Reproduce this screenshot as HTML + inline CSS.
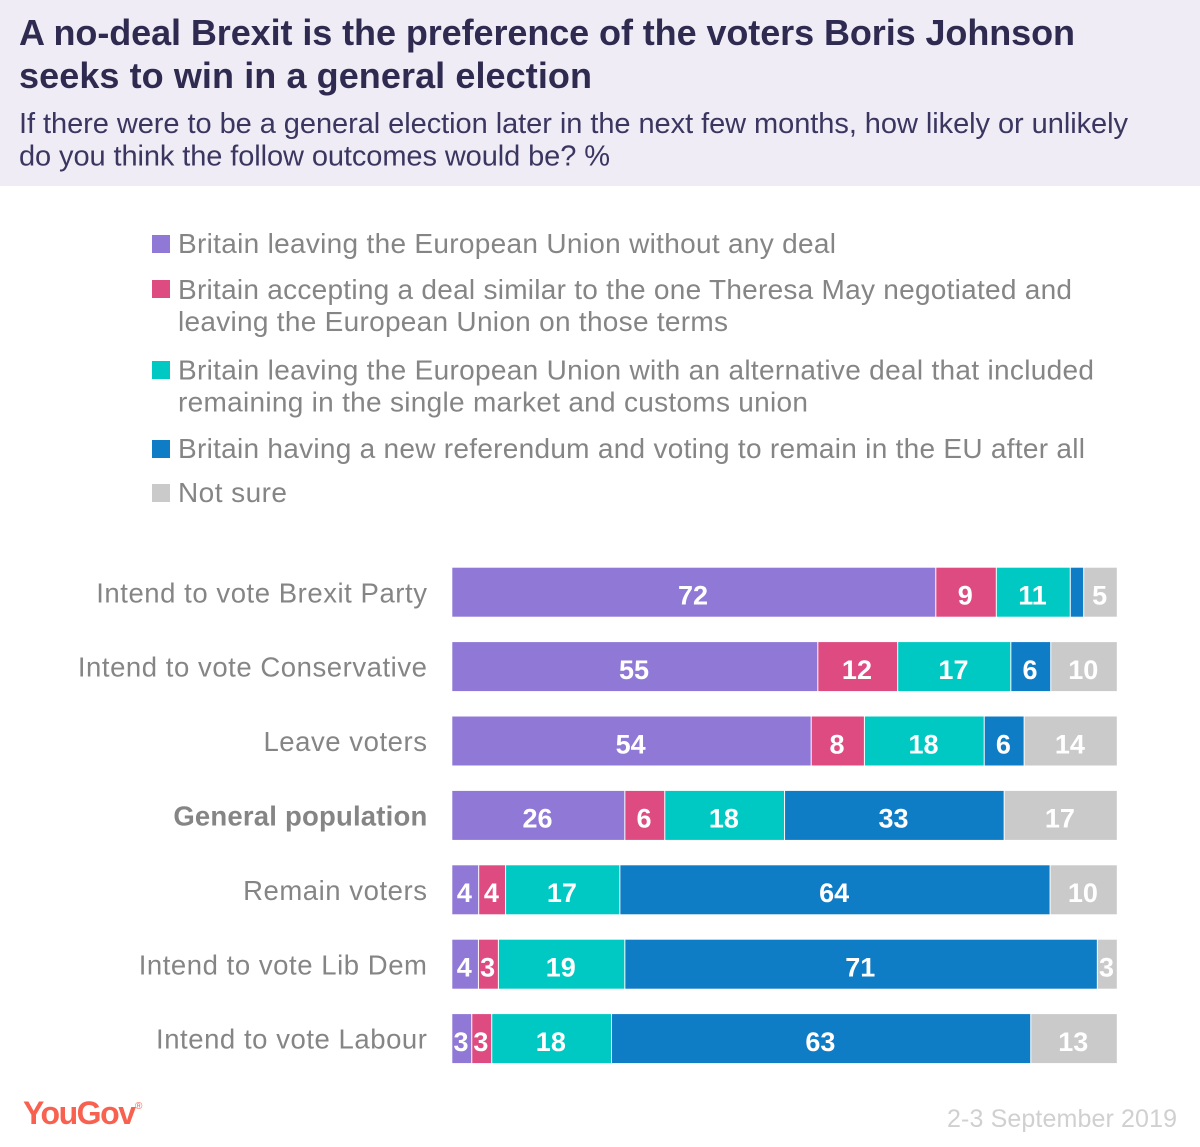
<!DOCTYPE html>
<html lang="en">
<head>
<meta charset="utf-8">
<title>YouGov no-deal Brexit chart</title>
<style>
html,body{margin:0;padding:0;background:#fff;width:1200px;height:1147px;overflow:hidden}
svg{display:block;font-family:"Liberation Sans",sans-serif}
</style>
</head>
<body>
<svg id="chart" xmlns="http://www.w3.org/2000/svg" width="1200" height="1147" viewBox="0 0 1200 1147">
  <g>
    <rect x="0" y="0" width="1200" height="186" fill="#efecf6"/>
    <text x="19" y="45" font-size="36" font-weight="700" fill="#2f2a4f" textLength="1056" lengthAdjust="spacing">A no-deal Brexit is the preference of the voters Boris Johnson</text>
    <text x="19" y="88" font-size="36" font-weight="700" fill="#2f2a4f" textLength="573" lengthAdjust="spacing">seeks to win in a general election</text>
    <text x="19" y="133" font-size="29" fill="#3b3660" textLength="1109" lengthAdjust="spacing">If there were to be a general election later in the next few months, how likely or unlikely</text>
    <text x="19" y="165.5" font-size="29" fill="#3b3660" textLength="591" lengthAdjust="spacing">do you think the follow outcomes would be? %</text>
  </g>
  <g font-size="28" fill="#858585">
    <rect x="152" y="235" width="18" height="18" fill="#9078d6"/>
    <text x="178" y="253" textLength="658" lengthAdjust="spacing">Britain leaving the European Union without any deal</text>
    <rect x="152" y="280" width="18" height="18" fill="#de4b81"/>
    <text x="178" y="299" textLength="894" lengthAdjust="spacing">Britain accepting a deal similar to the one Theresa May negotiated and</text>
    <text x="178" y="331" textLength="550" lengthAdjust="spacing">leaving the European Union on those terms</text>
    <rect x="152" y="361" width="18" height="18" fill="#00c9c3"/>
    <text x="178" y="379.5" textLength="916" lengthAdjust="spacing">Britain leaving the European Union with an alternative deal that included</text>
    <text x="178" y="411.5" textLength="630" lengthAdjust="spacing">remaining in the single market and customs union</text>
    <rect x="152" y="440" width="18" height="18" fill="#0f7cc6"/>
    <text x="178" y="458" textLength="907" lengthAdjust="spacing">Britain having a new referendum and voting to remain in the EU after all</text>
    <rect x="152" y="484" width="18" height="18" fill="#cacaca"/>
    <text x="178" y="502" textLength="109" lengthAdjust="spacing">Not sure</text>
  </g>
  <g id="plot"></g>
  <g>
    <text x="23" y="1124" font-size="32" font-weight="700" fill="#f8604f" textLength="113" lengthAdjust="spacing">YouGov</text>
    <text x="135" y="1109" font-size="10" fill="#f8604f">®</text>
    <text x="947" y="1127" font-size="25" fill="#d0d0d0" textLength="230" lengthAdjust="spacing">2-3 September 2019</text>
  </g>
</svg>
<script>
const categories = ["Intend to vote Brexit Party", "Intend to vote Conservative", "Leave voters", "General population", "Remain voters", "Intend to vote Lib Dem", "Intend to vote Labour"];
const noDeal = [72, 55, 54, 26, 4, 4, 3];
const mayDeal = [9, 12, 8, 6, 4, 3, 3];
const alternativeDeal = [11, 17, 18, 18, 17, 19, 18];
const remain = [2, 6, 6, 33, 64, 71, 63];
const notSure = [5, 10, 14, 17, 10, 3, 13];
const boldCategories = ["General population"];

const seriesList = [
  {name: "no-deal", values: noDeal, color: "#9078d6"},
  {name: "may-deal", values: mayDeal, color: "#de4b81"},
  {name: "alternative-deal", values: alternativeDeal, color: "#00c9c3"},
  {name: "remain", values: remain, color: "#0f7cc6"},
  {name: "not-sure", values: notSure, color: "#cacaca"}
];

const plotLeft = 452, plotRight = 1117.5, firstTop = 567.7, rowStep = 74.4, barHeight = 49, minLabelled = 3;
const NS = "http://www.w3.org/2000/svg";
const plot = document.getElementById("plot");

function xScale(share) { return plotLeft + share * (plotRight - plotLeft); }
function yScale(index) { return firstTop + index * rowStep; }

categories.forEach(function (category, i) {
  const slug = category.toLowerCase().replace(/\s+/g, "-");
  const label = document.createElementNS(NS, "text");
  
  
  label.setAttribute("x", 427.5);
  label.setAttribute("y", yScale(i) + 34.6);
  label.setAttribute("text-anchor", "end");
  label.setAttribute("font-size", "27.5");
  label.setAttribute("fill", "#858585");
  if (boldCategories.includes(category)) {
    label.setAttribute("font-weight", "700");
    label.setAttribute("letter-spacing", "0.2");
  } else {
    label.setAttribute("letter-spacing", "0.55");
  }
  label.textContent = category;
  plot.appendChild(label);

  const rowTotal = seriesList.reduce(function (sum, s) { return sum + s.values[i]; }, 0);
  let cumulative = 0;
  seriesList.forEach(function (s) {
    const value = s.values[i];
    const x0 = xScale(cumulative / rowTotal);
    const x1 = xScale((cumulative + value) / rowTotal);
    cumulative += value;

    const bar = document.createElementNS(NS, "rect");
    
    
    bar.setAttribute("data-series", s.name);
    bar.setAttribute("data-category", slug);
    bar.setAttribute("x", x0 + 0.3);
    bar.setAttribute("y", yScale(i));
    bar.setAttribute("width", Math.max(0, x1 - x0 - 1));
    bar.setAttribute("height", barHeight);
    bar.setAttribute("fill", s.color);
    plot.appendChild(bar);

    if (value >= minLabelled) {
      const text = document.createElementNS(NS, "text");
      
      
      text.setAttribute("x", (x0 + x1) / 2 - 1);
      text.setAttribute("y", yScale(i) + 36.8);
      text.setAttribute("text-anchor", "middle");
      text.setAttribute("font-size", "27");
      text.setAttribute("font-weight", "700");
      text.setAttribute("fill", "#fff");
      text.textContent = value;
      plot.appendChild(text);
    }
  });
});
</script>
</body>
</html>
